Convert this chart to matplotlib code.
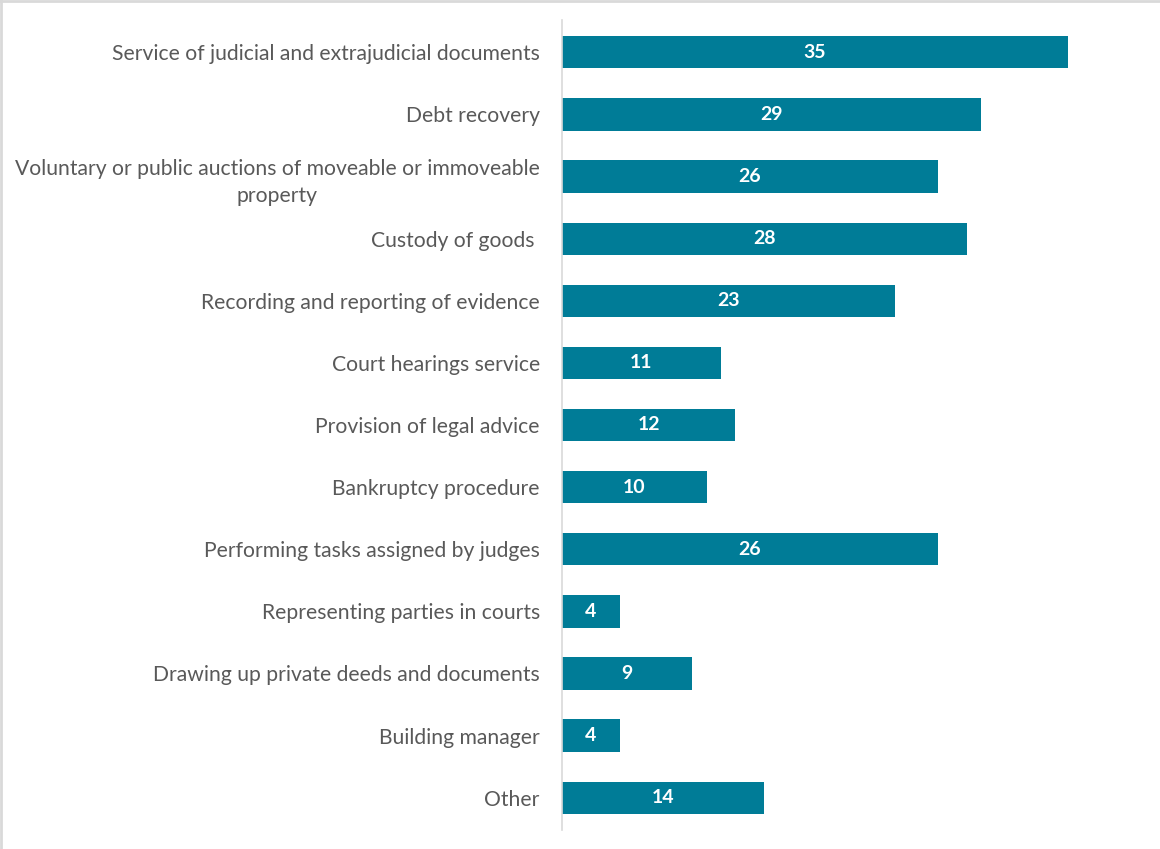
import matplotlib.pyplot as plt
from matplotlib.lines import Line2D

categories = [
    'Service of judicial and extrajudicial documents',
    'Debt recovery',
    'Voluntary or public auctions of moveable or immoveable\nproperty',
    'Custody of goods ',
    'Recording and reporting of evidence',
    'Court hearings service',
    'Provision of legal advice',
    'Bankruptcy procedure',
    'Performing tasks assigned by judges',
    'Representing parties in courts',
    'Drawing up private deeds and documents',
    'Building manager',
    'Other',
]
values = [35, 29, 26, 28, 23, 11, 12, 10, 26, 4, 9, 4, 14]

bar_color = '#007C97'
text_color = '#595959'

plt.rcParams['font.family'] = ['Lato', 'DejaVu Sans']

fig = plt.figure(figsize=(11.6, 8.49), dpi=100)
W, H = 1160, 849
ax = fig.add_axes([562 / W, 1 - 830 / H, (1068 - 562) / W, (830 - 20) / H])

y = list(range(len(categories)))
ax.barh(y, values, height=0.52, color=bar_color)
for yi, v in zip(y, values):
    ax.text(v / 2, yi, str(v), ha='center', va='center', color='white',
            fontsize=14, fontweight='bold')

ax.set_xlim(0, 35)
ax.set_ylim(len(categories) - 0.48, -0.52)
ax.set_yticks(y)
ax.set_yticklabels(categories, fontsize=15.2, color=text_color, ha='right',
                   multialignment='center', linespacing=1.45)
ax.tick_params(axis='y', length=0, pad=16)
ax.set_xticks([])
for s in ['top', 'right', 'bottom']:
    ax.spines[s].set_visible(False)
ax.spines['left'].set_color('#D9D9D9')
ax.spines['left'].set_linewidth(1.2)

# figure border (top and left)
fig.add_artist(Line2D([0.001, 0.001], [0, 1], color='#D9D9D9', lw=2,
                      transform=fig.transFigure))
fig.add_artist(Line2D([0, 1], [0.999, 0.999], color='#D9D9D9', lw=2,
                      transform=fig.transFigure))

fig.savefig('out.png', dpi=100)
